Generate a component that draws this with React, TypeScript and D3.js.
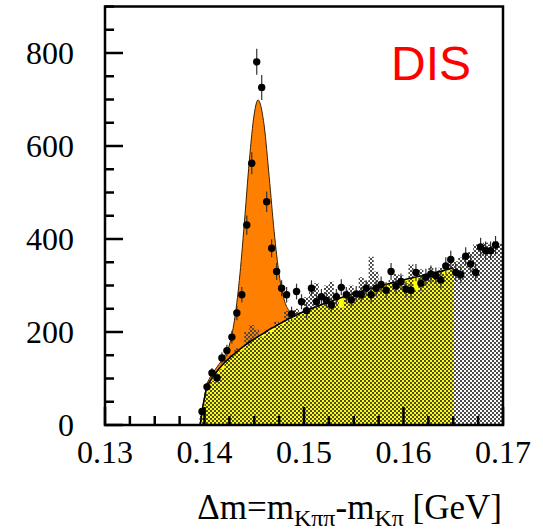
import React from "react";
import * as d3 from "d3";

const W = 543;
const H = 532;

// Axis ticks
const xTickValues = [0.13, 0.14, 0.15, 0.16, 0.17];
const xTickLabels = ["0.13", "0.14", "0.15", "0.16", "0.17"];
const yTickValues = [0, 200, 400, 600, 800];
const yTickLabels = ["0", "200", "400", "600", "800"];

// Histogram binning of Δm (GeV)
const binWidth = 0.0005;
const firstBinLow = 0.1395;

// Right-charge data counts per bin
const dataCounts = [
  29, 82, 112, 101, 144, 160, 189, 241, 280, 430,
  563, 781, 726, 480, 380, 330, 294, 280, 239, 287,
  265, 246, 294, 265, 276, 268, 258, 276, 296, 280,
  269, 282, 280, 294, 280, 294, 302, 290, 330, 299,
  308, 292, 290, 328, 305, 318, 325, 321, 312, 342,
  356, 328, 323, 363, 346, 328, 383, 375, 375, 387,
];

// Wrong-charge combinations per bin
const wrongChargeCounts = [
  20, 70, 95, 110, 120, 140, 150, 165, 160, 200,
  215, 205, 190, 205, 200, 222, 215, 245, 225, 250,
  240, 275, 300, 305, 262, 300, 308, 285, 252, 290,
  300, 278, 318, 310, 362, 330, 305, 290, 312, 325,
  322, 305, 345, 290, 335, 318, 340, 330, 338, 325,
  350, 352, 360, 362, 372, 388, 385, 392, 388, 395,
  390,
];

// Background fit curve
const bgMass = [
  0.13957, 0.1398, 0.14, 0.1402, 0.1405, 0.141, 0.1415, 0.142, 0.1425, 0.143,
  0.1435, 0.144, 0.1445, 0.145, 0.14538, 0.146, 0.1465, 0.147, 0.1475, 0.148,
  0.1485, 0.149, 0.15, 0.152, 0.154, 0.156, 0.158, 0.16, 0.162, 0.164, 0.165,
];
const bgFit = [
  0, 35, 58, 78, 92, 108, 122, 134, 144, 153,
  162, 170, 178, 185, 190, 198, 205, 211, 217, 223,
  229, 234, 244, 261, 276, 289, 301, 312, 322, 332, 338,
];

// Signal + background fit curve
const sigMass = [
  0.13957, 0.1398, 0.14, 0.1402, 0.1405, 0.141, 0.1415, 0.142, 0.1425, 0.143,
  0.1435, 0.144, 0.1445, 0.145, 0.14538, 0.146, 0.1465, 0.147, 0.1475, 0.148,
  0.1485, 0.149, 0.15,
];
const sigFit = [
  0, 36, 60, 84, 100, 117, 132, 148, 172, 224,
  311, 433, 567, 669, 699, 643, 534, 416, 324, 270,
  246, 239, 244,
];

const tagText = "DIS";

const x = d3.scaleLinear().domain([0.13, 0.17]).range([105, 503]);
const y = d3.scaleLinear().domain([0, 900]).range([425, 6.5]);

const serif = "'Liberation Serif', 'Times New Roman', serif";
const sans = "'Liberation Sans', Arial, Helvetica, sans-serif";

export default function App() {
  const bgPts: [number, number][] = bgMass.map((m, i) => [m, bgFit[i]]);
  const sigPts: [number, number][] = sigMass.map((m, i) => [m, sigFit[i]]);

  const area = d3
    .area<[number, number]>()
    .x((d) => x(d[0]))
    .y0(y(0))
    .y1((d) => y(d[1]))
    .curve(d3.curveMonotoneX);
  const line = d3
    .line<[number, number]>()
    .x((d) => x(d[0]))
    .y((d) => y(d[1]))
    .curve(d3.curveMonotoneX);

  const wcPts: [number, number][] = wrongChargeCounts.map((v, i) => [
    firstBinLow + i * binWidth,
    v,
  ]);
  wcPts.push([
    firstBinLow + wrongChargeCounts.length * binWidth,
    wrongChargeCounts[wrongChargeCounts.length - 1],
  ]);
  const stepArea = d3
    .area<[number, number]>()
    .x((d) => x(d[0]))
    .y0(y(0))
    .y1((d) => y(d[1]))
    .curve(d3.curveStepAfter);

  const points = dataCounts.map((v, i) => ({
    m: firstBinLow + (i + 0.5) * binWidth,
    v,
    e: Math.sqrt(v),
  }));

  const yMinor = d3.range(0, 901, 50).filter((v) => v % 200 !== 0);
  const xMinor = d3
    .range(0, 17)
    .map((i) => 0.13 + i * 0.0025)
    .filter((_, i) => i % 4 !== 0);

  const [x0, x1] = x.range();
  const [yb, yt] = y.range();

  return (
    <svg
      width={W}
      height={H}
      style={{ position: "absolute", left: 0, top: 0, display: "block", background: "#fff" }}
    >
      <defs>
        <pattern id="checker" width={4} height={4} patternUnits="userSpaceOnUse">
          <rect x={0} y={0} width={2} height={2} fill="#4a4a4a" />
          <rect x={2} y={2} width={2} height={2} fill="#4a4a4a" />
        </pattern>
        <clipPath id="plot">
          <rect x={x0} y={yt} width={x1 - x0} height={yb - yt} />
        </clipPath>
      </defs>

      <g clipPath="url(#plot)">
        <path d={area(sigPts) ?? ""} fill="#ff8000" />
        <path d={line(sigPts) ?? ""} fill="none" stroke="#3a2000" strokeWidth={1} />
        <path d={area(bgPts) ?? ""} fill="#ffff00" />
        <path d={stepArea(wcPts) ?? ""} fill="url(#checker)" />
        <path d={line(bgPts) ?? ""} fill="none" stroke="#000" strokeWidth={1.6} />

        {points.map((p, i) => (
          <line
            key={"e" + i}
            x1={x(p.m)}
            x2={x(p.m)}
            y1={y(p.v - p.e)}
            y2={y(p.v + p.e)}
            stroke="#333"
            strokeWidth={1.2}
          />
        ))}
        {points.map((p, i) => (
          <circle key={"p" + i} cx={x(p.m)} cy={y(p.v)} r={3.7} fill="#000" />
        ))}
      </g>

      {/* ticks */}
      {yTickValues.map((v) => (
        <line key={"yM" + v} x1={x0} x2={x0 + 18} y1={y(v)} y2={y(v)} stroke="#000" strokeWidth={2.5} />
      ))}
      {yMinor.map((v) => (
        <line key={"ym" + v} x1={x0} x2={x0 + 9} y1={y(v)} y2={y(v)} stroke="#000" strokeWidth={2.5} />
      ))}
      {xTickValues.map((v) => (
        <line key={"xM" + v} x1={x(v)} x2={x(v)} y1={yb} y2={yb - 18} stroke="#000" strokeWidth={2.5} />
      ))}
      {xMinor.map((v) => (
        <line key={"xm" + v} x1={x(v)} x2={x(v)} y1={yb} y2={yb - 9} stroke="#000" strokeWidth={2.5} />
      ))}

      <rect
        x={x0}
        y={yt}
        width={x1 - x0}
        height={yb - yt}
        fill="none"
        stroke="#000"
        strokeWidth={2.5}
      />

      {yTickValues.map((v, i) => (
        <text
          key={"yl" + v}
          x={74}
          y={y(v)}
          textAnchor="end"
          dominantBaseline="central"
          fontFamily={serif}
          fontSize={32}
          fill="#000"
        >
          {yTickLabels[i]}
        </text>
      ))}
      {xTickValues.map((v, i) => (
        <text
          key={"xl" + v}
          x={x(v)}
          y={463}
          textAnchor="middle"
          fontFamily={serif}
          fontSize={32}
          fill="#000"
        >
          {xTickLabels[i]}
        </text>
      ))}

      <text x={502} y={519} textAnchor="end" fontFamily={serif} fontSize={35} fill="#000">
        <tspan>Δm=m</tspan>
        <tspan fontSize={24} dy={7}>Kππ</tspan>
        <tspan dy={-7}>-m</tspan>
        <tspan fontSize={24} dy={7}>Kπ</tspan>
        <tspan dy={-7}>{" [GeV]"}</tspan>
      </text>

      <text x={471} y={80} textAnchor="end" fontFamily={sans} fontSize={48} fill="#ff0000">
        {tagText}
      </text>
    </svg>
  );
}
